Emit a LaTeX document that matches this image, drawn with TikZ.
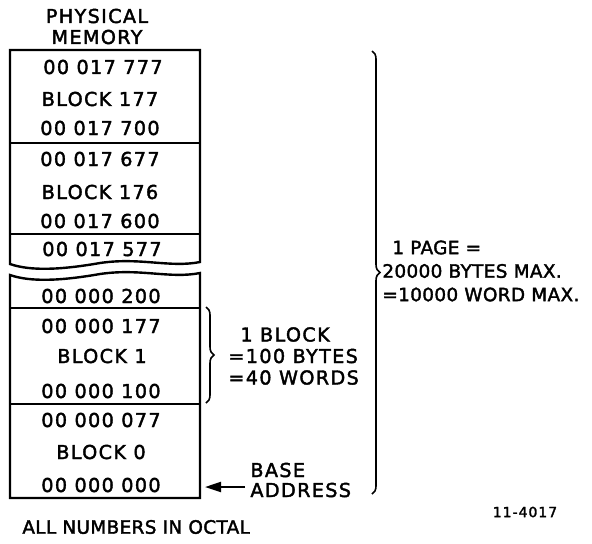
\documentclass[tikz,border=0pt]{standalone}
\usepackage{fontspec}
\setmainfont{DejaVu Sans}[LetterSpace=7,FakeBold=2]
\usetikzlibrary{arrows.meta,decorations.pathreplacing}

\begin{document}
\begin{tikzpicture}[x=0.5pt,y=-0.5pt,
  every node/.style={font=\fontsize{9.6}{10.8}\selectfont,inner sep=0pt},
  words/.style={font=\fontsize{9.2}{11.75}\selectfont\addfontfeature{LetterSpace=2}},
  frame/.style={line width=1.2pt},
  sep/.style={line width=.6pt},
  brc/.style={decorate,decoration={brace,amplitude=4pt},line width=.8pt}]
\useasboundingbox (0,0) rectangle (592,543);
% memory column, cut in two
\draw[frame] (10,264) -- (10,50) -- (200,50) -- (200,262) .. controls (170,268) and (140,257) .. (100,263) .. controls (60,270) and (30,271) .. cycle;
\draw[frame] (10,275) .. controls (30,282) and (60,281) .. (100,274) .. controls (140,268) and (170,279) .. (200,273) -- (200,498) -- (10,498) -- cycle;
\draw[sep] (10,143) -- (200,143);
\draw[sep] (10,234) -- (200,234);
\draw[sep] (10,308) -- (200,308);
\draw[sep] (10,404) -- (200,404);
\node (phys) at (97,16) {PHYSICAL};
\node (mem) at (97,37) {MEMORY};
\node (a17777) at (103,67) {00 017 777};
\node (b177) at (100,99) {BLOCK 177};
\node (a17700) at (100,128) {00 017 700};
\node (a17677) at (100,159) {00 017 677};
\node (b176) at (100,192) {BLOCK 176};
\node (a17600) at (100,221) {00 017 600};
\node (a17577) at (102,249) {00 017 577};
\node (a200) at (101,296) {00 000 200};
\node (a177) at (101,326) {00 000 177};
\node (b1) at (102,356) {BLOCK 1};
\node (a100) at (101,391) {00 000 100};
\node (a077) at (101,420) {00 000 077};
\node (b0) at (101,452) {BLOCK 0};
\node (a000) at (101,485) {00 000 000};
% one block
\coordinate (blktop) at (206,307);
\coordinate (blkbot) at (206,403);
\draw[brc] (blktop) -- (blkbot);
\node[anchor=west,align=left,font=\fontsize{9.6}{10.75}\selectfont] (blk) at (228,356) {\hspace{6pt}1 BLOCK\\=100 BYTES\\=40 WORDS};
% base address
\coordinate (tip) at (205,487);
\node[anchor=west,align=left,font=\fontsize{9.6}{10}\selectfont] (addr) at (250,480) {BASE\\ADDRESS};
\draw[-{Triangle[length=8pt,width=5pt]},line width=1pt] ([xshift=-2.5pt]addr.west |- tip) -- (tip);
% one page
\coordinate (pgtop) at (372,51);
\coordinate (pgbot) at (372,494);
\draw[brc] (pgtop) -- (pgbot);
\node[anchor=west,align=left,words] (page) at (382,271) {\hspace{5pt}1 PAGE =\\20000 BYTES MAX.\\=10000 WORD MAX.};
\node[anchor=west,words] (octal) at (22,527) {ALL NUMBERS IN OCTAL};
\node[font=\fontsize{7}{8}\selectfont] (fig) at (525,512) {11-4017};
\end{tikzpicture}
\end{document}
